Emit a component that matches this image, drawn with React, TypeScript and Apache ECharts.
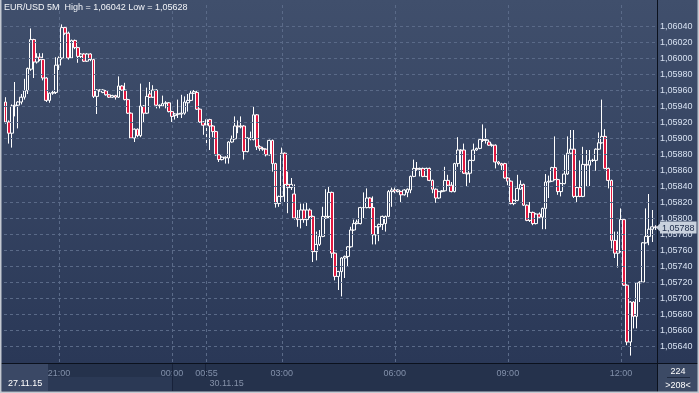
import React, { useEffect, useRef } from 'react';
import * as echarts from 'echarts';

// prices in 1e-5 units (1.05945 -> 105945)
const SCALE = 100000;
const opens = [
  105945, 105920, 105906, 105940, 105941, 105945, 105951, 105959, 105986, 106023,
  105995, 106001, 105998, 105975, 105947, 105956, 105957, 105991, 106000, 106038,
  106031, 106000, 106022, 106013, 106002, 106005, 105996, 106005, 105998, 105952,
  105960, 105957, 105959, 105954, 105951, 105953, 105951, 105965, 105960, 105948,
  105931, 105900, 105911, 105903, 105940, 105931, 105955, 105951, 105960, 105941,
  105940, 105943, 105944, 105933, 105928, 105930, 105930, 105931, 105944, 105947,
  105956, 105957, 105936, 105920, 105916, 105923, 105915, 105908, 105879, 105873,
  105875, 105875, 105895, 105899, 105915, 105914, 105915, 105883, 105900, 105898,
  105929, 105889, 105887, 105886, 105879, 105897, 105868, 105818, 105827, 105881,
  105842, 105838, 105830, 105800, 105798, 105810, 105798, 105810, 105802, 105758,
  105767, 105777, 105800, 105802, 105832, 105756, 105727, 105733, 105750, 105752,
  105764, 105785, 105793, 105793, 105813, 105813, 105825, 105813, 105779, 105789,
  105792, 105793, 105802, 105833, 105835, 105833, 105833, 105829, 105832, 105835,
  105852, 105862, 105861, 105862, 105852, 105862, 105847, 105836, 105825, 105833,
  105834, 105847, 105841, 105833, 105868, 105885, 105885, 105856, 105856, 105872,
  105885, 105887, 105898, 105897, 105895, 105891, 105891, 105870, 105868, 105868,
  105850, 105846, 105818, 105822, 105836, 105842, 105816, 105797, 105807, 105793,
  105805, 105801, 105812, 105845, 105846, 105863, 105848, 105833, 105843, 105855,
  105881, 105886, 105827, 105838, 105827, 105867, 105866, 105872, 105872, 105886,
  105894, 105902, 105862, 105847, 105772, 105756, 105758, 105798, 105716, 105645,
  105695, 105677, 105719, 105720, 105769, 105777, 105786, 105789,
];
const closes = [
  105920, 105906, 105940, 105941, 105945, 105951, 105959, 105987, 106023, 105995,
  106001, 105998, 105975, 105947, 105956, 105957, 105991, 106000, 106038, 106031,
  106000, 106022, 106013, 106002, 106005, 105996, 106005, 105998, 105952, 105960,
  105959, 105960, 105954, 105951, 105953, 105951, 105965, 105960, 105948, 105931,
  105900, 105911, 105903, 105940, 105931, 105952, 105951, 105960, 105941, 105940,
  105943, 105944, 105933, 105927, 105930, 105930, 105931, 105945, 105947, 105956,
  105958, 105936, 105920, 105916, 105923, 105915, 105908, 105879, 105873, 105876,
  105876, 105895, 105899, 105915, 105914, 105915, 105883, 105900, 105899, 105929,
  105889, 105887, 105886, 105879, 105897, 105868, 105818, 105827, 105881, 105842,
  105838, 105842, 105800, 105798, 105810, 105798, 105810, 105802, 105758, 105767,
  105777, 105802, 105802, 105832, 105756, 105727, 105733, 105750, 105752, 105764,
  105785, 105793, 105795, 105813, 105813, 105825, 105813, 105779, 105789, 105792,
  105802, 105802, 105833, 105835, 105833, 105835, 105829, 105835, 105836, 105852,
  105862, 105861, 105862, 105852, 105862, 105847, 105836, 105825, 105833, 105834,
  105847, 105841, 105833, 105868, 105885, 105884, 105856, 105855, 105872, 105885,
  105887, 105898, 105897, 105898, 105891, 105891, 105870, 105868, 105866, 105850,
  105846, 105818, 105822, 105837, 105842, 105816, 105797, 105807, 105793, 105805,
  105801, 105812, 105845, 105846, 105863, 105848, 105833, 105843, 105855, 105881,
  105886, 105827, 105838, 105827, 105867, 105866, 105872, 105872, 105886, 105894,
  105902, 105862, 105847, 105772, 105756, 105759, 105798, 105716, 105645, 105695,
  105677, 105719, 105720, 105769, 105777, 105786, 105789, 105788,
];
const lows = [
  105918, 105893, 105888, 105927, 105912, 105942, 105948, 105955, 105984, 105975,
  105993, 105996, 105972, 105945, 105944, 105954, 105955, 105985, 105998, 106029,
  105998, 105999, 106011, 105994, 106000, 105995, 105995, 105996, 105950, 105930,
  105958, 105956, 105953, 105950, 105950, 105948, 105950, 105959, 105947, 105930,
  105899, 105895, 105901, 105901, 105920, 105930, 105950, 105950, 105937, 105937,
  105939, 105937, 105932, 105920, 105923, 105925, 105925, 105929, 105933, 105946,
  105955, 105935, 105919, 105904, 105893, 105885, 105901, 105878, 105870, 105872,
  105868, 105868, 105894, 105898, 105906, 105912, 105873, 105882, 105897, 105897,
  105885, 105884, 105884, 105877, 105878, 105858, 105813, 105814, 105826, 105820,
  105806, 105835, 105798, 105789, 105787, 105794, 105790, 105800, 105745, 105747,
  105765, 105776, 105799, 105800, 105750, 105722, 105710, 105702, 105725, 105739,
  105763, 105784, 105792, 105792, 105800, 105812, 105812, 105767, 105767, 105771,
  105785, 105783, 105801, 105814, 105831, 105832, 105819, 105828, 105826, 105831,
  105851, 105859, 105852, 105851, 105851, 105846, 105831, 105819, 105824, 105832,
  105833, 105840, 105832, 105832, 105864, 105858, 105855, 105839, 105844, 105871,
  105884, 105886, 105895, 105893, 105890, 105889, 105862, 105866, 105860, 105849,
  105841, 105817, 105816, 105821, 105835, 105815, 105796, 105795, 105791, 105792,
  105800, 105786, 105786, 105825, 105845, 105847, 105829, 105827, 105842, 105854,
  105880, 105825, 105820, 105826, 105826, 105839, 105840, 105870, 105859, 105885,
  105893, 105861, 105837, 105762, 105750, 105738, 105757, 105715, 105641, 105628,
  105662, 105662, 105695, 105719, 105768, 105766, 105770, 105785,
];
const highs = [
  105951, 105922, 105942, 105970, 105946, 105955, 105974, 105988, 106037, 106024,
  106006, 106006, 106006, 105976, 105957, 105960, 106001, 106002, 106042, 106040,
  106033, 106023, 106023, 106014, 106006, 106006, 106006, 106006, 105999, 105961,
  105961, 105961, 105960, 105955, 105954, 105954, 105977, 105966, 105969, 105949,
  105932, 105912, 105912, 105968, 105941, 105963, 105970, 105966, 105961, 105942,
  105953, 105946, 105945, 105934, 105931, 105948, 105954, 105952, 105955, 105960,
  105960, 105960, 105937, 105921, 105924, 105924, 105916, 105909, 105880, 105877,
  105877, 105896, 105903, 105927, 105922, 105927, 105916, 105901, 105908, 105939,
  105930, 105891, 105889, 105887, 105898, 105898, 105869, 105828, 105888, 105882,
  105858, 105850, 105842, 105810, 105818, 105818, 105819, 105812, 105803, 105783,
  105785, 105814, 105836, 105840, 105833, 105757, 105734, 105751, 105753, 105765,
  105789, 105798, 105798, 105814, 105832, 105837, 105826, 105827, 105790, 105793,
  105803, 105803, 105835, 105838, 105838, 105836, 105834, 105836, 105837, 105853,
  105873, 105870, 105863, 105863, 105863, 105863, 105848, 105837, 105834, 105835,
  105864, 105854, 105845, 105869, 105901, 105886, 105893, 105857, 105873, 105893,
  105888, 105899, 105917, 105912, 105898, 105893, 105892, 105871, 105869, 105869,
  105851, 105847, 105823, 105854, 105847, 105843, 105817, 105820, 105808, 105806,
  105807, 105813, 105855, 105853, 105864, 105902, 105849, 105844, 105879, 105902,
  105910, 105910, 105839, 105872, 105889, 105885, 105885, 105874, 105887, 105907,
  105948, 105911, 105863, 105848, 105783, 105783, 105812, 105799, 105717, 105696,
  105696, 105720, 105721, 105770, 105812, 105830, 105810, 105791,
];

// price-axis ticks shown with labels and dashed grid lines
const yTickValues = [
  1.0564, 1.0566, 1.0568, 1.057, 1.0572, 1.0574, 1.0576, 1.0578, 1.058, 1.0582, 1.0584,
  1.0586, 1.0588, 1.059, 1.0592, 1.0594, 1.0596, 1.0598, 1.06, 1.0602, 1.0604,
];
const timeLabels = ['21:00', '00:00', '00:55', '03:00', '06:00', '09:00', '12:00'];
const dateLabels = ['27.11.15', '30.11.15'];
const titleText = 'EUR/USD 5M  High = 1,06042 Low = 1,05628';
const barInfoTop = '224';
const barInfoBottom = '>208<';

// 5-minute bar times: 27.11 session from 19:35, 30.11 session from 00:55 (one bar missing)
function buildTimes(start: string, count: number, missing: string[]): string[] {
  const out: string[] = [];
  let [h, m] = start.split(':').map(Number);
  while (out.length < count) {
    const t = `${String(h).padStart(2, '0')}:${String(m).padStart(2, '0')}`;
    if (!missing.includes(t)) out.push(t);
    m += 5;
    if (m >= 60) { m -= 60; h = (h + 1) % 24; }
  }
  return out;
}
const categories = [...buildTimes('19:35', 64, []), ...buildTimes('00:55', 144, ['01:30'])];

const FONT = 'Liberation Sans, Arial, sans-serif';
const fmt = (v: number) => v.toFixed(5).replace('.', ',');

export default function App() {
  const ref = useRef<HTMLDivElement>(null);
  useEffect(() => {
    if (!ref.current) return;
    const chart = echarts.init(ref.current, null, { renderer: 'svg' });
    const data = opens.map((o, i) => [
      o / SCALE,
      closes[i] / SCALE,
      Math.min(lows[i], o, closes[i]) / SCALE,
      Math.max(highs[i], o, closes[i]) / SCALE,
    ]);
    const last = closes[closes.length - 1] / SCALE;
    const gridLine = { color: '#5a6a88', width: 1, type: [3, 3] as any };

    chart.setOption({
      animation: false,
      grid: { left: 4, right: 42, top: 2, height: 360 },
      xAxis: {
        type: 'category',
        data: categories,
        boundaryGap: true,
        axisLine: { show: false },
        axisTick: { show: false },
        splitLine: { show: false },
        axisLabel: {
          interval: (_index: number, value: string) => timeLabels.includes(value),
          color: '#8290aa',
          fontSize: 9,
          fontFamily: FONT,
          margin: 6,
        },
      },
      yAxis: {
        type: 'value',
        position: 'right',
        min: 1.0562,
        max: 1.0607,
        interval: 0.0002,
        scale: true,
        axisLine: { show: true, lineStyle: { color: '#0b111d', width: 1 } },
        axisTick: { show: false },
        splitLine: { show: false },
        axisLabel: {
          color: '#d6e0f0',
          fontSize: 9,
          fontFamily: FONT,
          margin: 3,
          formatter: (v: number) => (v < 1.05635 || v > 1.06045 ? '' : fmt(v)),
        },
      },
      series: [
        {
          type: 'candlestick',
          data,
          barWidth: 3.3,
          itemStyle: {
            color: 'rgba(0,0,0,0)',
            color0: '#e2183f',
            borderColor: '#ffffff',
            borderColor0: '#ffffff',
            borderColorDoji: '#ffffff',
            borderWidth: 1,
          },
          markLine: {
            silent: true,
            symbol: 'none',
            precision: 5,
            animation: false,
            data: [
              ...yTickValues.map((v) => ({ yAxis: v, lineStyle: gridLine, label: { show: false } })),
              ...timeLabels.map((t) => ({ xAxis: t, lineStyle: gridLine, label: { show: false } })),
              {
                yAxis: last,
                lineStyle: { color: 'rgba(0,0,0,0)', width: 0 },
                label: {
                  show: true,
                  position: 'end',
                  distance: 3,
                  formatter: () => fmt(last),
                  backgroundColor: '#c9d1dd',
                  color: '#1b2a48',
                  fontSize: 9,
                  fontFamily: FONT,
                  padding: [2, 2, 1, 2],
                },
              },
            ],
          },
        },
      ],
    });

    const xAt = (c: string) => chart.convertToPixel({ xAxisIndex: 0 }, c) as number;
    const yLast = chart.convertToPixel({ yAxisIndex: 0 }, last) as number;
    const xMidnight = xAt('00:00');
    const xSecond = xAt('00:55');

    chart.setOption({
      graphic: [
        {
          type: 'rect', z: -10, silent: true,
          shape: { x: 0, y: 0, width: 699, height: 363 },
          style: {
            fill: new echarts.graphic.LinearGradient(0, 0, 0, 1, [
              { offset: 0, color: '#404f6c' },
              { offset: 1, color: '#2a3857' },
            ]),
          },
        },
        { type: 'rect', z: -5, silent: true, shape: { x: 0, y: 363, width: 699, height: 30 }, style: { fill: '#25324c' } },
        { type: 'rect', z: -4, silent: true, shape: { x: 48, y: 377, width: xMidnight - 48, height: 14 }, style: { fill: '#2b3955' } },
        { type: 'rect', z: -4, silent: true, shape: { x: 2, y: 364, width: 46, height: 27 }, style: { fill: '#3a4865' } },
        { type: 'rect', z: -4, silent: true, shape: { x: 658, y: 363, width: 41, height: 30 }, style: { fill: '#3c4a65' } },
        { type: 'line', z: 20, silent: true, shape: { x1: 0, y1: 363.5, x2: 699, y2: 363.5 }, style: { stroke: '#0b111d', lineWidth: 1 } },
        { type: 'line', z: 20, silent: true, shape: { x1: 657.5, y1: 0, x2: 657.5, y2: 393 }, style: { stroke: '#0b111d', lineWidth: 1 } },
        { type: 'line', z: 20, silent: true, shape: { x1: Math.round(xMidnight) + 0.5, y1: 364, x2: Math.round(xMidnight) + 0.5, y2: 391 }, style: { stroke: '#18223a', lineWidth: 1 } },
        { type: 'line', z: 20, silent: true, shape: { x1: Math.round(xSecond) - 0.5, y1: 364, x2: Math.round(xSecond) - 0.5, y2: 377 }, style: { stroke: '#18223a', lineWidth: 1 } },
        {
          type: 'polygon', z: 30, silent: true,
          shape: { points: [[656, yLast], [660, yLast - 4], [660, yLast + 4]] },
          style: { fill: '#c9d1dd' },
        },
        {
          type: 'text', z: 30, silent: true, x: 8, y: 383,
          style: { text: dateLabels[0], fill: '#ffffff', fontSize: 9, fontFamily: FONT, verticalAlign: 'middle' },
        },
        {
          type: 'text', z: 30, silent: true, x: xSecond + 3, y: 383,
          style: { text: dateLabels[1], fill: '#8591a8', fontSize: 9, fontFamily: FONT, verticalAlign: 'middle' },
        },
        {
          type: 'text', z: 30, silent: true, x: 678, y: 371,
          style: { text: barInfoTop, fill: '#ffffff', fontSize: 9, fontFamily: FONT, align: 'center', verticalAlign: 'middle' },
        },
        { type: 'line', z: 30, silent: true, shape: { x1: 667, y1: 377.5, x2: 690, y2: 377.5 }, style: { stroke: '#1f2a40', lineWidth: 1 } },
        {
          type: 'text', z: 30, silent: true, x: 678, y: 385,
          style: { text: barInfoBottom, fill: '#ffffff', fontSize: 9, fontFamily: FONT, align: 'center', verticalAlign: 'middle' },
        },
        {
          type: 'text', z: 30, silent: true, x: 4, y: 7,
          style: { text: titleText, fill: '#f2f4f8', fontSize: 9, fontFamily: FONT, verticalAlign: 'middle' },
        },
        {
          type: 'rect', z: 100, silent: true,
          shape: { x: 0.5, y: -2, width: 698, height: 394.5 },
          style: { fill: 'none', stroke: '#c4c9d2', lineWidth: 2 },
        },
      ],
    });

    return () => chart.dispose();
  }, []);

  return <div ref={ref} style={{ position: 'fixed', left: 0, top: 0, width: 699, height: 393 }} />;
}
